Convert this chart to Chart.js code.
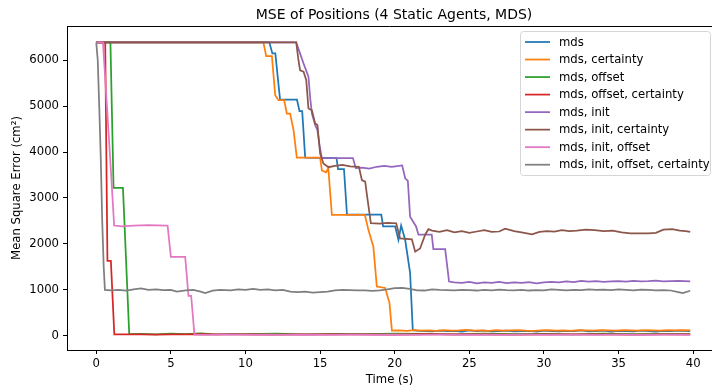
<!DOCTYPE html>
<html>
<head>
<meta charset="utf-8">
<script src="https://cdn.jsdelivr.net/npm/chart.js@4.4.1/dist/chart.umd.min.js"></script>
<style>
  html, body { margin: 0; padding: 0; background: #fff; overflow: hidden; }
  canvas { display: block; }
</style>
</head>
<body>
<canvas id="mseChart" width="712" height="390"></canvas>
<script>
// [time (s), MSE (cm²)]
const mds = [
  [0, 6390], [11.6, 6390], [11.8, 6150], [12.0, 6150], [12.25, 5350], [12.32, 5140], [13.45, 5140],
  [13.62, 4890], [13.8, 4890], [14.0, 3880], [16.1, 3870], [16.2, 3630], [16.6, 3630], [16.8, 2640],
  [19.1, 2640], [19.22, 2380], [20.03, 2380], [20.25, 2090], [20.43, 2400], [20.7, 2090], [21.03, 1370],
  [21.21, 120], [21.5, 110], [22, 100], [22.5, 95], [23, 110], [23.5, 100], [24, 105], [24.5, 90],
  [25, 115], [25.5, 100], [26, 110], [26.5, 95], [27, 100], [27.5, 110], [28, 95], [28.5, 100],
  [29, 105], [29.5, 90], [30, 110], [30.5, 100], [31, 95], [31.5, 105], [32, 100], [32.5, 115],
  [33, 95], [33.5, 100], [34, 110], [34.5, 90], [35, 105], [35.5, 100], [36, 95], [36.5, 110],
  [37, 100], [37.5, 90], [38, 105], [38.5, 100], [39, 110], [39.8, 100]
];
const mdsCertainty = [
  [0, 6390], [11.2, 6390], [11.39, 6090], [11.77, 6090], [11.99, 5240], [12.21, 5130], [12.59, 5130],
  [12.77, 4840], [12.99, 4840], [13.22, 4480], [13.44, 3880], [15.0, 3880], [15.12, 3600], [15.4, 3560],
  [15.55, 3650], [15.79, 2630], [18.0, 2630], [18.24, 2300], [18.57, 1940], [18.8, 1070], [19.36, 1040],
  [19.65, 710], [19.81, 110], [20.3, 115], [20.8, 105], [21.3, 120], [21.8, 110], [22.3, 115],
  [22.8, 105], [23.3, 120], [23.8, 110], [24.3, 115], [24.8, 125], [25.3, 110], [25.8, 115],
  [26.3, 105], [26.8, 120], [27.3, 110], [27.8, 115], [28.3, 120], [28.8, 110], [29.3, 105],
  [29.8, 115], [30.3, 120], [30.8, 110], [31.3, 115], [31.8, 105], [32.3, 120], [32.8, 115],
  [33.3, 110], [33.8, 120], [34.3, 115], [34.8, 110], [35.3, 120], [35.8, 115], [36.3, 110],
  [36.8, 120], [37.3, 115], [37.8, 110], [38.3, 120], [38.8, 115], [39.3, 120], [39.8, 115]
];
const mdsOffset = [
  [0, 6390], [0.95, 6390], [1.16, 3220], [1.79, 3220], [2.21, 35], [3, 40], [4, 30], [5, 45], [6, 35],
  [7, 50], [8, 30], [9, 40], [10, 35], [12, 45], [14, 30], [16, 40], [18, 35], [20, 45], [22, 40],
  [24, 30], [26, 45], [28, 35], [30, 40], [32, 30], [34, 45], [36, 35], [38, 40], [39.8, 35]
];
const mdsOffsetCertainty = [
  [0, 6390], [0.6, 6390], [0.75, 1630], [0.98, 1630], [1.21, 30], [2, 28], [3, 32], [4, 25], [5, 30],
  [6, 27], [7, 35], [8, 28], [10, 30], [12, 25], [14, 32], [16, 28], [18, 30], [20, 26], [22, 33],
  [24, 28], [26, 30], [28, 25], [30, 32], [32, 28], [34, 30], [36, 26], [38, 30], [39.8, 28]
];
const mdsInit = [
  [0, 6390], [13.4, 6390], [13.66, 6145], [13.89, 5930], [14.22, 5640], [14.33, 5200], [14.45, 4840],
  [14.67, 4590], [14.82, 4480], [14.96, 4150], [15.12, 3870], [17.2, 3870], [17.39, 3650], [17.8, 3660],
  [18.3, 3640], [18.8, 3680], [19.3, 3700], [19.8, 3680], [20.5, 3710], [20.7, 3430], [20.88, 3370],
  [21.03, 2590], [21.43, 2380], [21.59, 2200], [22.48, 2200], [22.59, 1885], [23.38, 1885], [23.64, 1180],
  [24, 1160], [24.5, 1150], [25, 1170], [25.5, 1140], [26, 1160], [26.5, 1150], [27, 1170], [27.5, 1145],
  [28, 1160], [28.5, 1150], [29, 1165], [29.5, 1140], [30, 1160], [30.5, 1175], [31, 1160], [31.5, 1185],
  [32, 1170], [32.5, 1195], [33, 1180], [33.5, 1190], [34, 1175], [34.5, 1185], [35, 1190], [35.5, 1180],
  [36, 1195], [36.5, 1185], [37, 1190], [37.5, 1200], [38, 1185], [38.5, 1190], [39, 1195], [39.8, 1185]
];
const mdsInitCertainty = [
  [0, 6390], [13.4, 6390], [13.55, 6000], [13.66, 5780], [13.89, 5750], [14.07, 5570], [14.22, 4950],
  [14.45, 4910], [14.67, 4620], [14.82, 4590], [15.0, 3970], [15.22, 3750], [15.56, 3670], [16.0, 3700],
  [16.5, 3720], [17.0, 3690], [17.6, 3680], [17.8, 3390], [18.02, 3355], [18.17, 2990], [18.4, 2450],
  [19.0, 2440], [19.5, 2460], [20.1, 2450], [20.36, 2120], [21.15, 2100], [21.37, 1830], [21.7, 1900],
  [22.04, 2200], [22.26, 2320], [22.5, 2290], [23, 2260], [23.5, 2300], [24, 2250], [24.5, 2280],
  [25, 2240], [25.5, 2270], [26, 2300], [26.5, 2260], [27, 2270], [27.4, 2330], [28, 2280], [28.5, 2250],
  [29.2, 2210], [29.7, 2260], [30.2, 2280], [30.7, 2270], [31.2, 2300], [31.7, 2280], [32.2, 2290],
  [32.8, 2310], [33.4, 2300], [34, 2280], [34.6, 2290], [35.2, 2250], [35.8, 2230], [36.4, 2230],
  [37, 2230], [37.5, 2240], [38, 2310], [38.6, 2320], [39.1, 2290], [39.5, 2280], [39.8, 2260]
];
const mdsInitOffset = [
  [0, 6390], [0.45, 6390], [0.9, 4040], [1.2, 2400], [1.7, 2380], [2.5, 2400], [3.5, 2410], [4.7, 2400],
  [4.78, 2400], [5.0, 1720], [5.96, 1720], [6.18, 870], [6.36, 870], [6.58, 25], [7.5, 20], [8.5, 28],
  [9.5, 22], [10.5, 18], [11.5, 25], [12.5, 20], [14, 26], [15.5, 18], [17, 24], [18.5, 20], [20, 25],
  [21.5, 18], [23, 22], [24.5, 20], [26, 25], [27.5, 18], [29, 22], [30.5, 20], [32, 24], [33.5, 19],
  [35, 22], [36.5, 20], [38, 23], [39.8, 20]
];
const mdsInitOffsetCertainty = [
  [0, 6390], [0.1, 6000], [0.2, 5000], [0.3, 3900], [0.4, 2500], [0.5, 1500], [0.58, 1000], [1.0, 990],
  [1.5, 1000], [2.0, 985], [2.5, 1010], [3.0, 1030], [3.5, 1000], [4.0, 1010], [4.5, 995], [5.0, 1000],
  [5.4, 960], [6.0, 990], [6.5, 1000], [7.0, 960], [7.3, 930], [7.8, 980], [8.3, 1000], [9.0, 990],
  [9.5, 1010], [10.0, 1000], [10.5, 1020], [11.0, 1000], [11.5, 1010], [12.0, 990], [12.5, 1000],
  [13.0, 960], [13.5, 950], [14.0, 960], [14.5, 940], [15.0, 950], [15.5, 960], [16.0, 990], [16.5, 1000],
  [17.0, 995], [17.5, 985], [18.0, 990], [18.5, 975], [19.0, 990], [19.5, 1010], [20.0, 1035],
  [20.5, 1040], [21.0, 1020], [21.5, 990], [22.0, 985], [22.5, 1010], [23.0, 1000], [23.5, 995],
  [24.0, 990], [24.5, 1000], [25.0, 995], [25.5, 985], [26.0, 1000], [26.5, 990], [27.0, 1005],
  [27.5, 995], [28.0, 990], [28.5, 1000], [29.0, 985], [29.5, 995], [30.0, 990], [30.5, 1010],
  [31.0, 1000], [31.5, 990], [32.0, 1000], [32.5, 995], [33.0, 1010], [33.5, 1000], [34.0, 1005],
  [34.5, 995], [35.0, 1010], [35.5, 1000], [36.0, 990], [36.5, 1005], [37.0, 1000], [37.5, 990],
  [38.0, 995], [38.5, 985], [39.0, 950], [39.3, 930], [39.8, 980]
];

const seriesLabels = [
  'mds', 'mds, certainty', 'mds, offset', 'mds, offset, certainty',
  'mds, init', 'mds, init, certainty', 'mds, init, offset', 'mds, init, offset, certainty'
];
const seriesData = [
  mds, mdsCertainty, mdsOffset, mdsOffsetCertainty,
  mdsInit, mdsInitCertainty, mdsInitOffset, mdsInitOffsetCertainty
];
const colors = ['#1f77b4', '#ff7f0e', '#2ca02c', '#d62728', '#9467bd', '#8c564b', '#e377c2', '#7f7f7f'];

const xTicks = [0, 5, 10, 15, 20, 25, 30, 35, 40];
const yTicks = [0, 1000, 2000, 3000, 4000, 5000, 6000];

const FONT = "'DejaVu Sans', sans-serif";
const FS = 11.67;

const datasets = seriesData.map((pts, i) => ({
  label: seriesLabels[i],
  data: pts.map(([x, y]) => ({ x, y })),
  borderColor: colors[i],
  backgroundColor: colors[i],
  borderWidth: 1.75,
  pointRadius: 0,
  tension: 0,
  fill: false,
  order: seriesData.length - 1 - i, // matplotlib puts later lines on top
}));

// title, top spine and the boxed legend, drawn like matplotlib does them
const decorations = {
  id: 'decorations',
  afterDraw(chart) {
    const { ctx, chartArea } = chart;
    ctx.save();

    ctx.strokeStyle = '#000';
    ctx.lineWidth = 1;
    ctx.beginPath();
    ctx.moveTo(chartArea.left, chartArea.top + 0.5);
    ctx.lineTo(chartArea.right, chartArea.top + 0.5);
    ctx.stroke();

    ctx.fillStyle = '#000';
    ctx.font = `14px ${FONT}`;
    ctx.textAlign = 'center';
    ctx.textBaseline = 'alphabetic';
    ctx.fillText('MSE of Positions (4 Static Agents, MDS)', 394, 19);

    const box = { x: 520.5, y: 31.5, w: 190, h: 144, r: 3 };
    ctx.beginPath();
    ctx.roundRect(box.x, box.y, box.w, box.h, box.r);
    ctx.fillStyle = 'rgba(255,255,255,0.8)';
    ctx.fill();
    ctx.strokeStyle = '#d6d6d6';
    ctx.stroke();

    ctx.font = `${FS}px ${FONT}`;
    ctx.textAlign = 'left';
    ctx.textBaseline = 'middle';
    chart.data.datasets.forEach((ds, i) => {
      const y = 42 + i * 17.53;
      ctx.strokeStyle = ds.borderColor;
      ctx.lineWidth = 1.75;
      ctx.beginPath();
      ctx.moveTo(525, y);
      ctx.lineTo(550, y);
      ctx.stroke();
      ctx.fillStyle = '#000';
      ctx.fillText(ds.label, 559, y + 0.5);
    });

    ctx.restore();
  },
};

new Chart(document.getElementById('mseChart'), {
  type: 'line',
  data: { datasets },
  options: {
    responsive: false,
    animation: false,
    devicePixelRatio: 1,
    layout: { padding: { top: 26, left: 0, right: 0, bottom: 0 } },
    plugins: {
      legend: { display: false },
      title: { display: false },
      tooltip: { enabled: false },
    },
    scales: {
      x: {
        type: 'linear',
        min: -1.96,
        max: 41.26,
        afterBuildTicks: (scale) => { scale.ticks = xTicks.map((v) => ({ value: v })); },
        afterFit: (scale) => { scale.height = 40; },
        grid: { drawOnChartArea: false, drawTicks: true, tickLength: 4, color: '#000', tickWidth: 1 },
        border: { display: true, color: '#000', width: 1 },
        ticks: { color: '#000', font: { family: FONT, size: FS }, padding: 3, maxRotation: 0, callback: (v) => String(v) },
        title: { display: true, text: 'Time (s)', color: '#000', font: { family: FONT, size: FS }, padding: { top: 0, bottom: 3 } },
      },
      y: {
        type: 'linear',
        min: -311,
        max: 6746,
        afterBuildTicks: (scale) => { scale.ticks = yTicks.map((v) => ({ value: v })); },
        afterFit: (scale) => { scale.width = 67; },
        grid: { drawOnChartArea: false, drawTicks: true, tickLength: 4, color: '#000', tickWidth: 1 },
        border: { display: true, color: '#000', width: 1 },
        ticks: { color: '#000', font: { family: FONT, size: FS }, padding: 4, callback: (v) => String(v) },
        title: { display: true, text: 'Mean Square Error (cm²)', color: '#000', font: { family: FONT, size: FS }, padding: { top: 10, bottom: 0 } },
      },
    },
  },
  plugins: [decorations],
});
</script>
</body>
</html>
